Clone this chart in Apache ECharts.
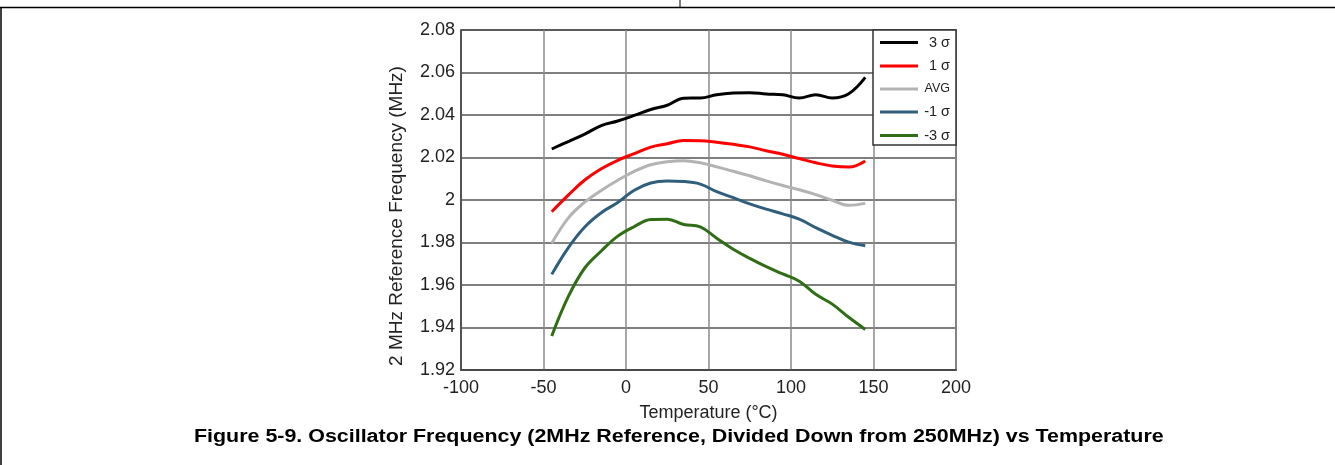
<!DOCTYPE html>
<html>
<head>
<meta charset="utf-8">
<script src="https://cdn.jsdelivr.net/npm/echarts@6/dist/echarts.min.js"></script>
<style>
html,body{margin:0;padding:0;background:#fff;}
#c{width:1335px;height:465px;}
</style>
</head>
<body>
<div id="c"></div>
<script>
const temps = [-45,-35,-25,-15,-5,5,15,25,35,45,55,65,75,85,95,105,115,125,135,145];
const seriesNames = ['3 σ','1 σ','AVG','-1 σ','-3 σ'];
const plus3 = [2.024,2.0275,2.031,2.035,2.0372,2.0398,2.0426,2.0446,2.0479,2.048,2.0495,2.0503,2.0505,2.0499,2.0495,2.048,2.0495,2.048,2.050,2.0577];
const plus1 = [1.9945,2.0023,2.0094,2.0147,2.0187,2.0218,2.0249,2.0265,2.028,2.0279,2.0272,2.0262,2.025,2.0232,2.0215,2.0195,2.0175,2.016,2.0155,2.0184];
const avg   = [1.9796,1.9915,1.999,2.0045,2.0093,2.0135,2.0166,2.018,2.0185,2.0175,2.0156,2.0135,2.0114,2.009,2.0068,2.0048,2.0025,1.9999,1.9975,1.9984];
const minus1= [1.965,1.9775,1.9873,1.994,1.9988,2.0046,2.008,2.0089,2.0087,2.0075,2.0039,2.0011,1.9982,1.9957,1.9935,1.991,1.987,1.9834,1.9802,1.9785];
const minus3= [1.936,1.9545,1.968,1.976,1.983,1.9875,1.9908,1.991,1.9885,1.9873,1.982,1.9768,1.9725,1.9686,1.9652,1.9618,1.9556,1.951,1.9448,1.9391];
const xTicks = [-100,-50,0,50,100,150,200];
const yTicks = [1.92,1.94,1.96,1.98,2,2.02,2.04,2.06,2.08];
const xTitle = 'Temperature (°C)';
const yTitle = '2 MHz Reference Frequency (MHz)';
const caption = 'Figure 5-9. Oscillator Frequency (2MHz Reference, Divided Down from 250MHz) vs Temperature';

const colors = ['#000000','#ff0000','#b3b3b3','#2f5f7c','#2f6e15'];
const allData = [plus3, plus1, avg, minus1, minus3];
const FONT = '"Liberation Sans", Arial, sans-serif';

const chart = echarts.init(document.getElementById('c'), null, {renderer:'canvas'});
chart.setOption({
  animation:false,
  backgroundColor:'#fff',
  grid:{left:461, top:30, width:495, height:340, show:true, borderColor:'#444', borderWidth:1.5},
  xAxis:{
    type:'value', min:xTicks[0], max:xTicks[xTicks.length-1], interval:50,
    name:xTitle, nameLocation:'middle', nameGap:34,
    nameTextStyle:{fontFamily:FONT, fontSize:18, color:'#222'},
    axisLine:{show:true, onZero:false, lineStyle:{color:'#444', width:1.5}},
    axisTick:{show:false},
    axisLabel:{fontFamily:FONT, fontSize:18, color:'#222', margin:9},
    splitLine:{show:true, lineStyle:{color:'#8a8a8a', width:1.5}}
  },
  yAxis:{
    type:'value', min:yTicks[0], max:yTicks[yTicks.length-1], interval:0.02,
    name:yTitle, nameLocation:'middle', nameGap:55, nameRotate:90,
    nameTextStyle:{fontFamily:FONT, fontSize:19, color:'#222', padding:[0,32,0,0]},
    axisLine:{show:true, onZero:false, lineStyle:{color:'#444', width:1.5}},
    axisTick:{show:false},
    axisLabel:{fontFamily:FONT, fontSize:18, color:'#222', margin:6,
      formatter:v=>String(parseFloat(v.toFixed(2)))},
    splitLine:{show:true, lineStyle:{color:'#555', width:1.5}}
  },
  legend:{
    show:true, orient:'vertical', left:873, top:30,
    backgroundColor:'#fff', borderColor:'#333', borderWidth:1.5,
    padding:[5,6,2,7], itemGap:8.5, itemWidth:38, itemHeight:3, icon:'rect',
    data:seriesNames,
    formatter:n=> n==='AVG' ? '{s|'+n+'}' : '{n|'+n+'}',
    textStyle:{fontFamily:FONT, fontSize:14, color:'#222', lineHeight:14,
      rich:{n:{fontSize:14.5, width:27, align:'right', fontFamily:FONT, color:'#222'},
            s:{fontSize:12.5, width:27, align:'right', fontFamily:FONT, color:'#222'}}}
  },
  series: seriesNames.map((n,i)=>({
    name:n, type:'line', smooth:0.4, symbol:'none',
    lineStyle:{color:colors[i], width:3},
    itemStyle:{color:colors[i]},
    data: temps.map((t,j)=>[t, allData[i][j]]),
    z: 2
  })),
  graphic:[
    {type:'line', shape:{x1:0,y1:7.5,x2:1335,y2:7.5}, style:{stroke:'#000', lineWidth:1.5}},
    {type:'line', shape:{x1:1,y1:7,x2:1,y2:465}, style:{stroke:'#000', lineWidth:1.5}},
    {type:'line', shape:{x1:680,y1:0,x2:680,y2:7}, style:{stroke:'#000', lineWidth:1}},
    {type:'text', x:194, y:437, scaleX:1.19, style:{text:caption, font:'bold 18px "Liberation Sans", Arial, sans-serif', fill:'#000', align:'left', verticalAlign:'middle'}}
  ]
});
</script>
</body>
</html>
